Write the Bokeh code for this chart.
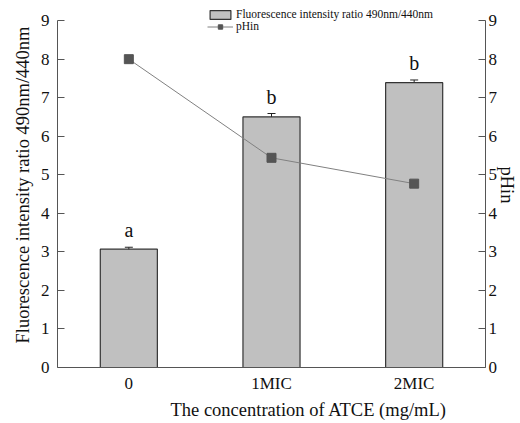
import numpy as np
from bokeh.plotting import figure
from bokeh.models import (ColumnDataSource, FactorRange, Range1d, LinearAxis, Whisker,
                          Legend, LegendItem, Title, FixedTicker)
from bokeh.core.properties import value
from bokeh.embed import file_html
from bokeh.resources import INLINE

categories = ["0", "1MIC", "2MIC"]
ratio = [3.07, 6.50, 7.39]
ratio_err = [0.05, 0.09, 0.07]
phin = [8.00, 5.44, 4.77]
letters = ["a", "b", "b"]
y_ticks = [0, 1, 2, 3, 4, 5, 6, 7, 8, 9]

FONT = "Liberation Serif"
AX = "#555555"
TXT = "#111111"

src = ColumnDataSource(dict(
    cat=categories, ratio=ratio,
    upper=[v + e for v, e in zip(ratio, ratio_err)],
    lower=[v - e for v, e in zip(ratio, ratio_err)],
    phin=phin, letters=letters,
))

p = figure(x_range=FactorRange(*categories, range_padding=0),
           y_range=Range1d(0, 9.47),
           width=520, height=423, output_backend="svg", toolbar_location=None,
           min_border_left=57, min_border_right=35, min_border_top=2, min_border_bottom=56)
p.extra_y_ranges = {"ph": Range1d(0, 9.47)}
p.outline_line_color = None
p.xgrid.visible = False
p.ygrid.visible = False
p.background_fill_color = "white"
p.border_fill_color = "white"

bars = p.vbar(x="cat", top="ratio", width=0.4, source=src, fill_color="#c0c0c0",
              line_color="#333333", line_width=1.2)
wh = Whisker(base="cat", upper="upper", lower="lower", source=src,
             line_color="#222222", line_width=1)
wh.upper_head.size = 8
wh.lower_head.size = 8
wh.upper_head.line_color = "#222222"
wh.lower_head.line_color = "#222222"
p.add_layout(wh)

p.text(x="cat", y="upper", text="letters", source=src, text_align="center",
       text_baseline="bottom", y_offset=-6, text_font=value(FONT),
       text_font_size="20px", text_color=TXT)

ln = p.line(x="cat", y="phin", source=src, line_color="#808080", line_width=1,
            y_range_name="ph")
sc = p.scatter(x="cat", y="phin", source=src, marker="square", size=9,
               fill_color="#555555", line_color="#555555", y_range_name="ph")

left = p.yaxis[0]
left.ticker = FixedTicker(ticks=y_ticks)
left.axis_label = "Fluorescence intensity ratio 490nm/440nm"
left.axis_label_standoff = 5
left.major_label_standoff = 8

right = LinearAxis(y_range_name="ph", ticker=FixedTicker(ticks=y_ticks))
right.axis_label = "pHin"
right.axis_label_standoff = -3
right.major_label_standoff = 3
p.add_layout(right, "right")

for ax in [left, right]:
    ax.bounds = (0, 9)
    ax.major_tick_in = 7
    ax.major_tick_out = 0
    ax.minor_tick_line_color = None
    ax.axis_line_color = AX
    ax.major_tick_line_color = AX
    ax.major_label_text_font = FONT
    ax.major_label_text_font_size = "17px"
    ax.major_label_text_color = TXT
    ax.axis_label_text_font = FONT
    ax.axis_label_text_font_style = "normal"
    ax.axis_label_text_font_size = "18.5px"
    ax.axis_label_text_color = TXT

xa = p.xaxis[0]
xa.major_tick_line_color = None
xa.minor_tick_line_color = None
xa.axis_line_color = AX
xa.major_label_text_font = FONT
xa.major_label_text_font_size = "17px"
xa.major_label_text_color = TXT
xa.major_label_standoff = 0

xtitle = Title(text="The concentration of ATCE  (mg/mL)", align="left", offset=113,
               text_font=FONT, text_font_size="18.5px", text_font_style="normal",
               text_color=TXT, standoff=4)
p.add_layout(xtitle, "below")

legend = Legend(items=[
    LegendItem(label="Fluorescence intensity ratio 490nm/440nm", renderers=[bars]),
    LegendItem(label="pHin", renderers=[ln, sc]),
], location=(150, 335))
legend.label_text_font = FONT
legend.label_text_font_size = "11.5px"
legend.label_text_color = TXT
legend.label_height = 11
legend.glyph_height = 11
legend.glyph_width = 26
legend.label_standoff = 3
legend.spacing = 0
legend.padding = 0
legend.margin = 0
legend.border_line_color = None
legend.background_fill_alpha = 0
p.add_layout(legend, "center")

open("out.html", "w").write(file_html(p, INLINE))
